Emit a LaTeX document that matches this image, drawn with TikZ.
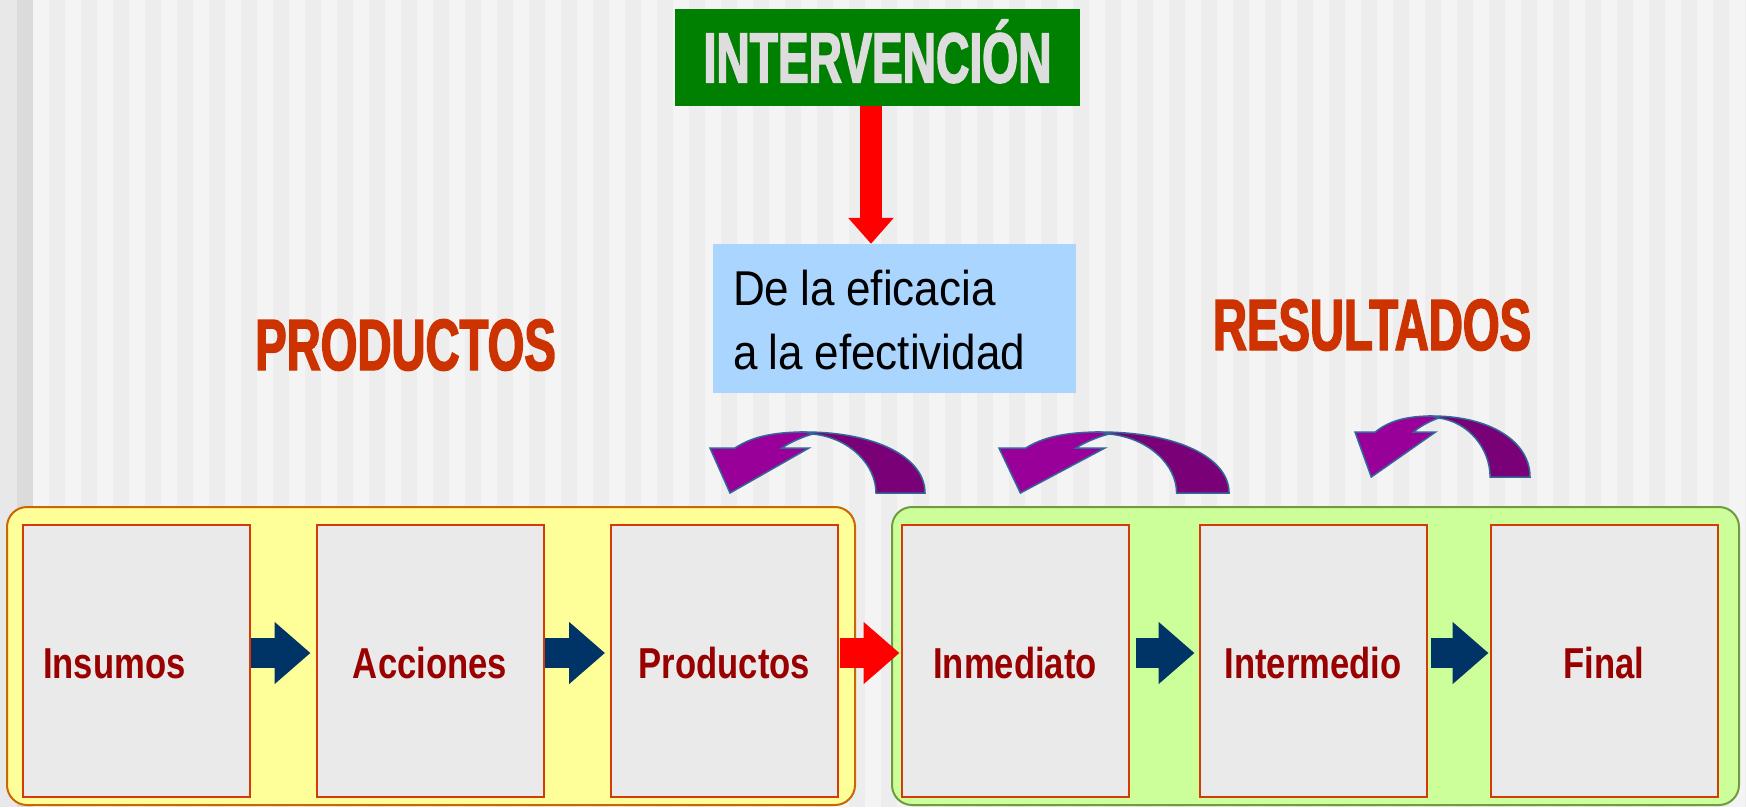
\documentclass[tikz,border=0pt]{standalone}
\usepackage{fontspec}
\usepackage{graphicx}
\usetikzlibrary{arrows.meta}
\setmainfont{Liberation Sans}
\newfontfamily\notefont[FakeStretch=0.9]{Liberation Sans}
\newfontfamily\labelfont[FakeStretch=0.8]{Liberation Sans}
\newfontfamily\headfont[FakeStretch=0.65,FakeBold=2]{Liberation Sans}
\definecolor{stripelight}{HTML}{F4F4F4}
\definecolor{stripedark}{HTML}{EDEDED}
\definecolor{titlegreen}{HTML}{008000}
\definecolor{titlegray}{HTML}{DDDDDD}
\definecolor{noteblue}{HTML}{AAD5FF}
\definecolor{headred}{HTML}{CC3300}
\definecolor{labelred}{HTML}{990000}
\definecolor{boxgray}{HTML}{EAEAEA}
\definecolor{boxline}{HTML}{D43A0A}
\definecolor{prodyellow}{HTML}{FFFF99}
\definecolor{prodline}{HTML}{CC6600}
\definecolor{resgreen}{HTML}{CCFF99}
\definecolor{resline}{HTML}{6F9C3F}
\definecolor{flownavy}{HTML}{003366}
\definecolor{backdark}{HTML}{7A0077}
\definecolor{backlight}{HTML}{990099}
\definecolor{backline}{HTML}{336699}

\begin{document}
\begin{tikzpicture}[x=1pt,y=-1pt]
\tikzset{
  stage/.style={draw=boxline, line width=2pt, fill=boxgray, minimum width=227pt,
    minimum height=272pt, inner sep=0pt, text=labelred, text height=34pt, text depth=0pt,
    font=\labelfont\bfseries\fontsize{43.3}{44}\selectfont},
  flow/.style={draw=flownavy, line width=30pt, -{Triangle[length=36pt,width=60pt]}},
  panel/.style={rounded corners=20pt, line width=2pt},
  heading/.style={text=headred, anchor=base, inner sep=0pt,
    font=\headfont\bfseries\fontsize{72.6}{73}\selectfont},
  titlebox/.style={fill=titlegreen, minimum width=405pt, minimum height=97pt, inner sep=0pt,
    text=titlegray, text height=50pt, text depth=0pt,
    font=\headfont\bfseries\fontsize{71}{71}\selectfont},
  notebox/.style={fill=noteblue, minimum width=363pt, minimum height=149pt, text width=323pt,
    inner xsep=20pt, inner ysep=0pt, align=left, text height=36pt, text depth=63pt,
    font=\notefont\fontsize{48.9}{64}\selectfont,
    execute at begin node={\spaceskip=11.5pt\relax}},
  backarrow/.pic={
    \filldraw[fill=backdark, draw=backline, line width=1.5pt]
      (95,0) .. controls (165,0) and (215,25) .. (215,61) -- (166,61)
      .. controls (166,33) and (140,6) .. (103,2) -- cycle;
    \filldraw[fill=backlight, draw=backline, line width=1.5pt, line join=miter]
      (0,16) -- (25,16) .. controls (40,6) and (60,0) .. (95,0) -- (103,2)
      .. controls (95,4) and (80,10) .. (72,16) -- (99,16) -- (20,61) -- cycle;
  }
}
\useasboundingbox (0,0) rectangle (1746,807);
\fill[stripelight] (0,0) rectangle (1746,807);
\fill[black!9] (0,0) rectangle (17,807);
\fill[black!14] (17,0) rectangle (33,807);
\foreach \sx in {49,81,...,1745}
  \fill[stripedark] (\sx,0) rectangle ++(16,807);

\node[titlebox] (title) at (877.5,57.5) {INTERVENCIÓN};
\node[notebox] (note) at (894.5,318.5) {De la eficacia\\a la efectividad};
\draw[red, line width=22pt, -{Triangle[length=26pt,width=44pt]}]
  ([xshift=-6.5pt]title.south) -- ([xshift=-23.5pt]note.north);

\node[heading] (prodhead) at (405.5,370) {PRODUCTOS};
\node[heading] (reshead) at (1372,350) {RESULTADOS};

\draw[panel, fill=prodyellow, draw=prodline] (7,507) rectangle (855,805);
\draw[panel, fill=resgreen, draw=resline] (892,507) rectangle (1739,805);

\node[stage, text width=187pt, align=left] (insumos) at (136.5,661) {Insumos};
\node[stage] (acciones) at (430,661) {Acciones};
\node[stage] (productos) at (724.5,661) {Productos};
\node[stage] (inmediato) at (1015,661) {Inmediato};
\node[stage] (intermedio) at (1313,661) {Intermedio};
\node[stage] (final) at (1604,661) {Final};

\draw[flow] ([yshift=8pt]insumos.east) -- ([xshift=-5pt,yshift=8pt]acciones.west);
\draw[flow] ([yshift=8pt]acciones.east) -- ([xshift=-5pt,yshift=8pt]productos.west);
\draw[flow, draw=red] ([xshift=1pt,yshift=8pt]productos.east) -- ([xshift=-1pt,yshift=8pt]inmediato.west);
\draw[flow] ([xshift=6pt,yshift=8pt]inmediato.east) -- ([xshift=-4pt,yshift=8pt]intermedio.west);
\draw[flow] ([xshift=3pt,yshift=8pt]intermedio.east) -- ([xshift=-1pt,yshift=8pt]final.west);

\pic at (710,432) {backarrow};
\pic[xscale=1.07] at (999,432) {backarrow};
\pic[xscale=0.814] at (1355,416) {backarrow};
\end{tikzpicture}
\end{document}
